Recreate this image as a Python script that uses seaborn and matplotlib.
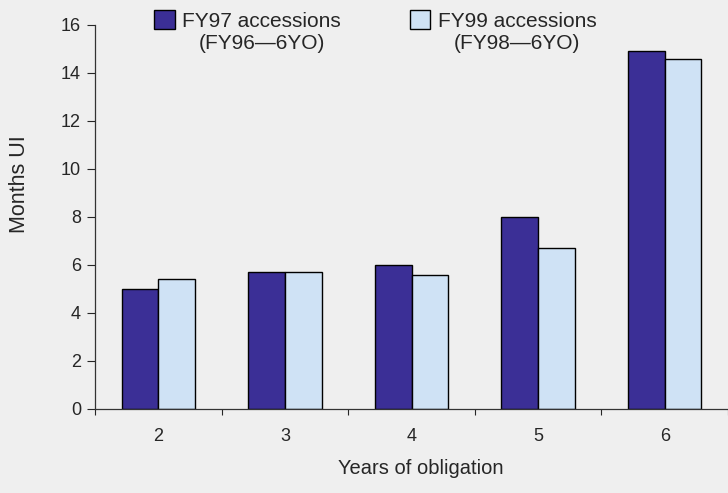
import matplotlib
matplotlib.use("Agg")
import matplotlib.pyplot as plt
import numpy as np
import pandas as pd
import seaborn as sns

# Data
years = ["2", "3", "4", "5", "6"]
fy97 = [5.0, 5.7, 6.0, 8.0, 14.9]
fy99 = [5.4, 5.7, 5.6, 6.7, 14.6]
series_names = ["FY97 accessions", "FY99 accessions"]
series_notes = ["(FY96\u20146YO)", "(FY98\u20146YO)"]
bar_colors = ["#3b2f96", "#cfe2f5"]

df = pd.DataFrame({
    "Years": years * 2,
    "Months UI": fy97 + fy99,
    "Series": [series_names[0]] * len(years) + [series_names[1]] * len(years),
})

sns.set_style("white")
plt.rcParams["font.family"] = ["Liberation Sans", "DejaVu Sans"]
bg = "#efefef"

fig = plt.figure(figsize=(7.28, 4.93), dpi=100, facecolor=bg)
ax = fig.add_axes([0.1305, 0.1704, 0.8695, 0.7789])
ax.set_facecolor(bg)

sns.barplot(data=df, x="Years", y="Months UI", hue="Series", order=years,
            hue_order=series_names, palette=bar_colors, width=0.58, gap=0,
            edgecolor="black", linewidth=1.0, saturation=1, ax=ax)

ax.set_ylim(0, 16)
ax.set_yticks(np.arange(0, 17, 2))
ax.set_xlim(-0.5, 4.4375)

# ticks sit between categories on the x axis
ax.set_xticks(np.arange(-0.5, 4.6, 1.0), minor=True)
ax.tick_params(axis="x", which="major", length=0, pad=14, labelsize=13)
ax.tick_params(axis="x", which="minor", length=4, width=0.8, direction="out", bottom=True)
ax.tick_params(axis="y", length=6, width=0.8, direction="out", left=True, labelsize=13, pad=4)

for s in ["top", "right"]:
    ax.spines[s].set_visible(False)
for s in ["left", "bottom"]:
    ax.spines[s].set_color("#333333")
    ax.spines[s].set_linewidth(0.9)

ax.set_xlabel("Years of obligation", fontsize=14.5)
ax.xaxis.set_label_coords(0.515, -0.13)
ax.set_ylabel("Months UI", fontsize=15.5)
ax.yaxis.set_label_coords(-0.103, 0.586)

leg = ax.legend(loc="upper left", bbox_to_anchor=(0.08, 1.06), ncol=2,
                frameon=False, fontsize=15, handlelength=1.0, handleheight=1.0,
                columnspacing=3.3, handletextpad=0.35, borderaxespad=0)

# second line of each legend label, centred under the first
fig.canvas.draw()
for t, note in zip(leg.get_texts(), series_notes):
    bb = t.get_window_extent()
    fig.text((bb.x0 + bb.x1) / 2, bb.y0 - 3, note, transform=None,
             ha="center", va="top", fontsize=15)

fig.savefig("out.png", dpi=100, facecolor=bg)
